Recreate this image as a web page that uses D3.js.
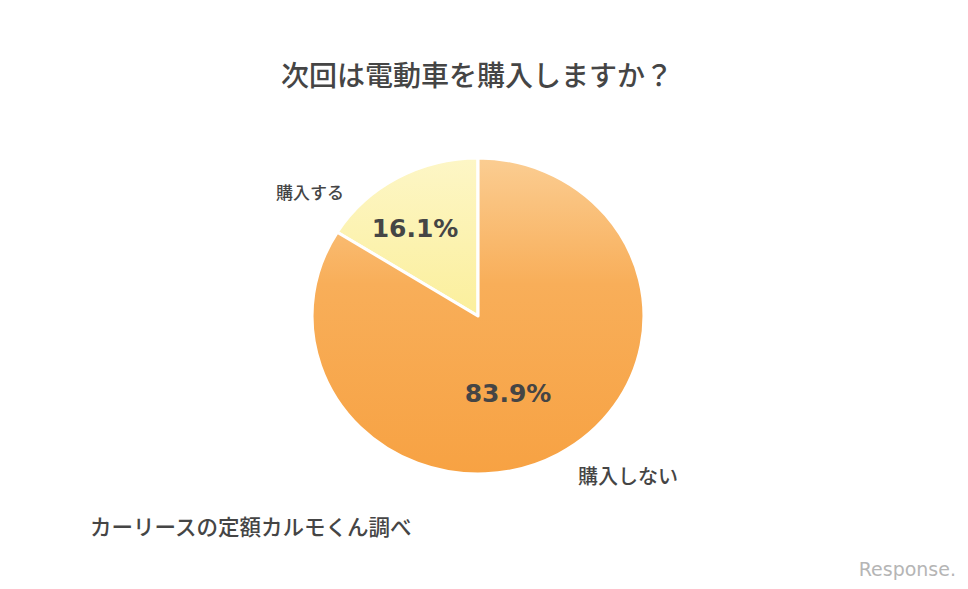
<!DOCTYPE html>
<html><head><meta charset="utf-8">
<script src="https://cdn.jsdelivr.net/npm/d3@7"></script>
<style>
body{margin:0;background:#fff;}
svg{display:block;}
</style></head>
<body>
<svg id="c" width="968" height="589"></svg>
<script>
const categories = ["購入する", "購入しない"];
const values = [16.1, 83.9];
const valueLabels = ["16.1%", "83.9%"];
const title = "次回は電動車を購入しますか？";
const source = "カーリースの定額カルモくん調べ";

const svg = d3.select("#c");
const W = 968, H = 589;
svg.append("rect").attr("width", W).attr("height", H).attr("fill", "#fff");

const defs = svg.append("defs");
const gOr = defs.append("linearGradient").attr("id","gOr")
  .attr("gradientUnits","userSpaceOnUse").attr("x1",0).attr("y1",-158).attr("x2",0).attr("y2",158);
gOr.append("stop").attr("offset","0%").attr("stop-color","#fbcd92");
gOr.append("stop").attr("offset","40%").attr("stop-color","#f8ae59");
gOr.append("stop").attr("offset","100%").attr("stop-color","#f7a243");
const gYe = defs.append("linearGradient").attr("id","gYe")
  .attr("gradientUnits","userSpaceOnUse").attr("x1",0).attr("y1",-158).attr("x2",0).attr("y2",0);
gYe.append("stop").attr("offset","0%").attr("stop-color","#fdf6c6");
gYe.append("stop").attr("offset","100%").attr("stop-color","#fbef9c");

const fills = ["url(#gYe)", "url(#gOr)"];

const cx = 478, cy = 316, ry = 158, rx = 166;
const pie = d3.pie().sort(null).value(d => d)
  .startAngle(0).endAngle(-2 * Math.PI);
const arcs = pie(values);
const arc = d3.arc().innerRadius(0).outerRadius(ry);

const g = svg.append("g").attr("transform", `translate(${cx},${cy}) scale(${rx/ry},1)`);
g.selectAll("path").data(arcs).join("path")
  .attr("d", arc)
  .attr("fill", (d,i) => fills[i])
  .attr("stroke", "#fff")
  .attr("stroke-width", 3)
  .attr("stroke-linejoin", "round");

const textColor = "#454545";
const latin = "'DejaVu Sans', 'Noto Sans', sans-serif";
const jp = "'Noto Sans CJK JP', sans-serif";

// value labels
const valPos = [[415, 228], [508, 393]];
svg.selectAll("text.val").data(valueLabels).join("text")
  .attr("class","val")
  .attr("x", (d,i) => valPos[i][0]).attr("y", (d,i) => valPos[i][1])
  .attr("text-anchor","middle").attr("dominant-baseline","central")
  .attr("font-family", latin).attr("font-weight","bold").attr("font-size", 25)
  .attr("fill", textColor)
  .text(d => d);

// category labels
const catPos = [[276, 191, "start"], [578, 475, "start"]];
svg.selectAll("text.cat").data(categories).join("text")
  .attr("class","cat")
  .attr("x", (d,i) => catPos[i][0]).attr("y", (d,i) => catPos[i][1])
  .attr("text-anchor", (d,i) => catPos[i][2]).attr("dominant-baseline","central")
  .attr("font-family", jp).attr("font-weight", 500).attr("font-size", (d,i)=> i===0?17:20)
  .attr("fill", textColor)
  .text(d => d);

// title
svg.append("text").attr("x", 477).attr("y", 74)
  .attr("text-anchor","middle").attr("dominant-baseline","central")
  .attr("font-family", jp).attr("font-weight", 500).attr("font-size", 28)
  .attr("fill", textColor).text(title);

// source
svg.append("text").attr("x", 90).attr("y", 525)
  .attr("dominant-baseline","central")
  .attr("font-family", jp).attr("font-weight", 500).attr("font-size", 21.5)
  .attr("fill", textColor).text(source);

// watermark
svg.append("text").attr("x", 956).attr("y", 569)
  .attr("text-anchor","end").attr("dominant-baseline","central")
  .attr("font-family", "'DejaVu Sans', sans-serif").attr("font-size", 19)
  .attr("fill", "#b5b5b5").text("Response.");
</script>
</body></html>
